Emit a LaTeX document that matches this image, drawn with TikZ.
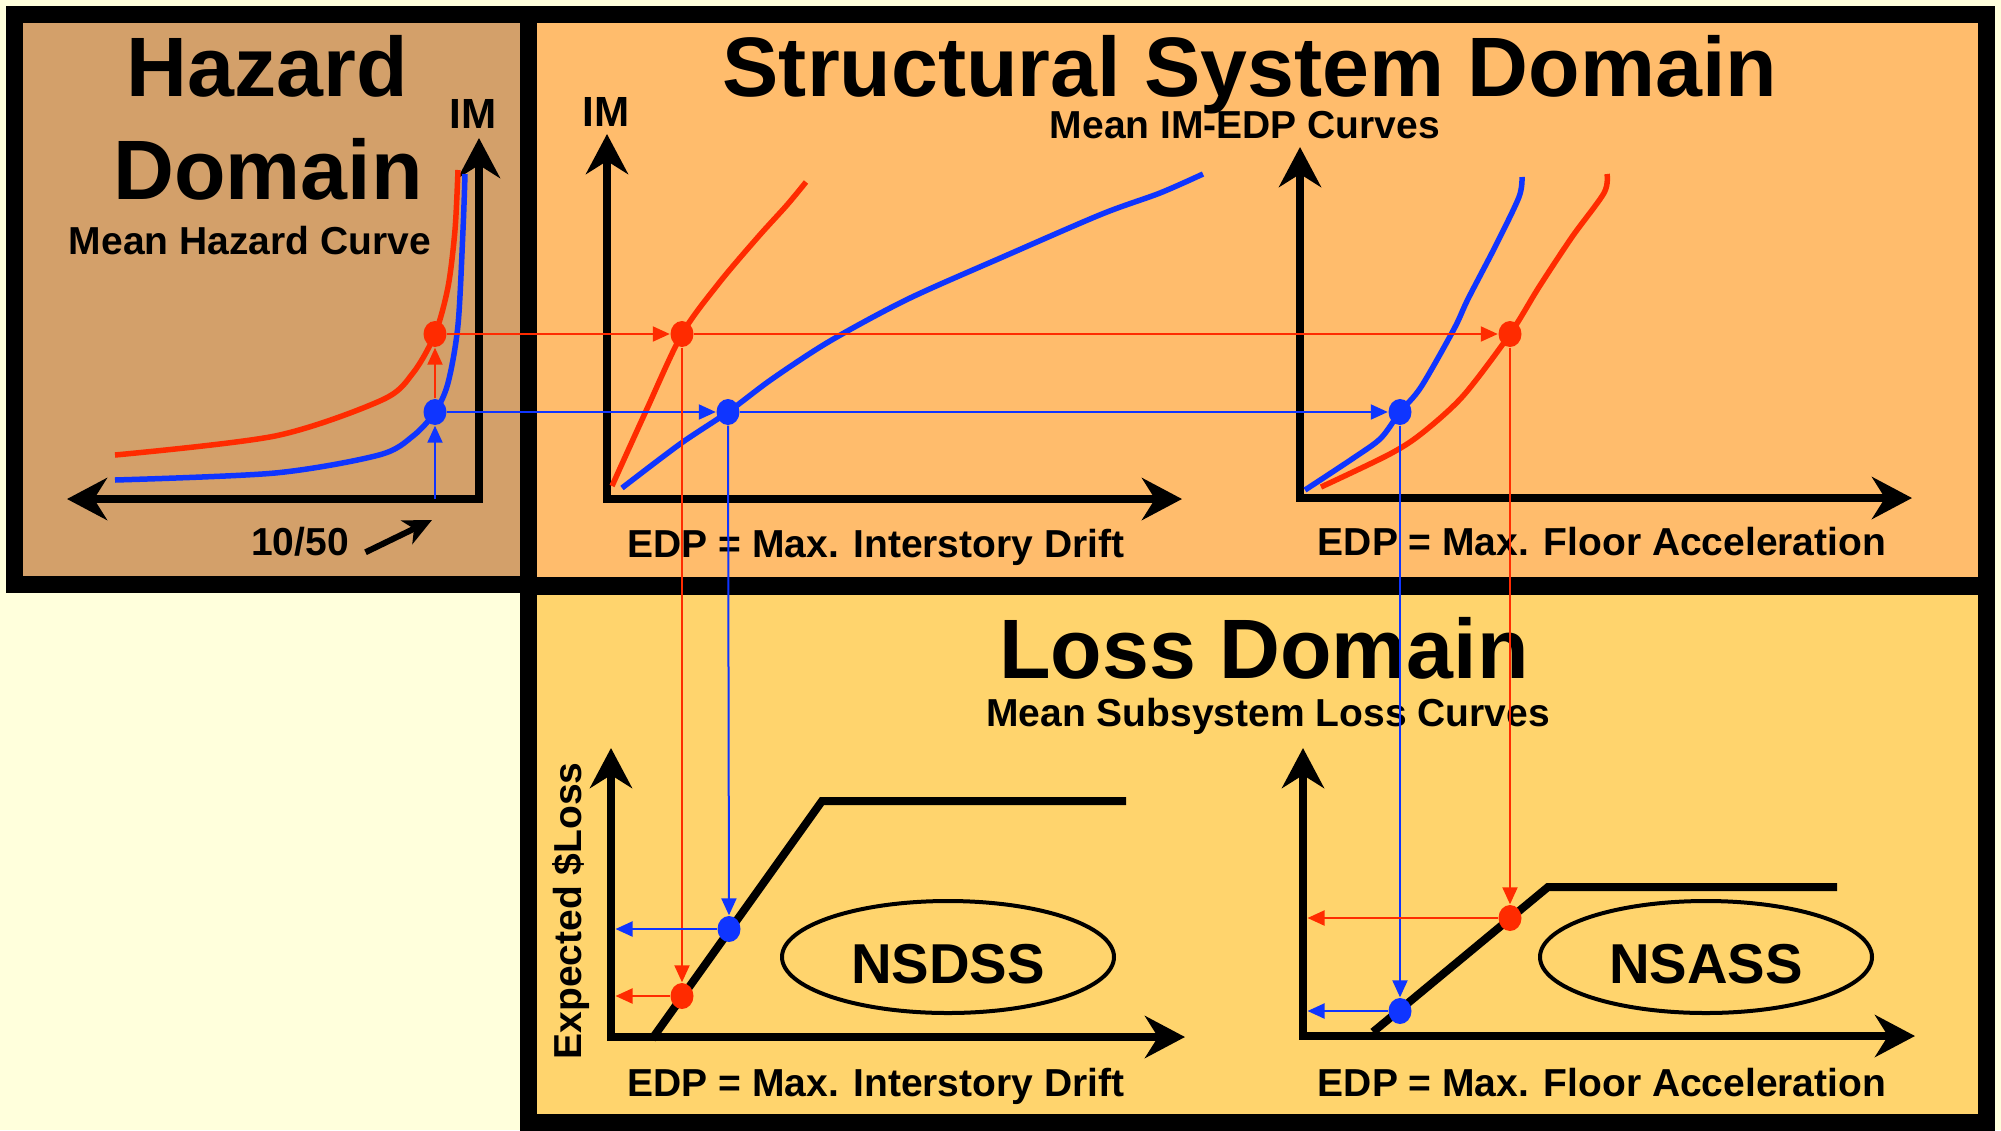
\documentclass[tikz,border=0pt]{standalone}
\usepackage{fontspec}
\setmainfont{Liberation Sans}
\usetikzlibrary{arrows.meta, shapes.geometric}
\definecolor{cream}{HTML}{FFFFDC}
\definecolor{hazfill}{HTML}{D3A06A}
\definecolor{strfill}{HTML}{FFBC6C}
\definecolor{lossfill}{HTML}{FFD46D}
\definecolor{hzred}{HTML}{FF2B00}
\definecolor{hzblue}{HTML}{0F35FF}
\tikzset{
  axtip/.tip={Stealth[length=4mm, width=4.2mm, inset=1.3mm]},
  cntip/.tip={Triangle[length=1.7mm, width=1.5mm]}
}

\begin{document}
\begin{tikzpicture}[x=0.1mm, y=-0.1mm,
    box/.style={draw=black, line width=1.7mm},
    axis/.style={line width=0.8mm, line join=miter, axtip-axtip},
    redc/.style={draw=hzred, line width=0.55mm},
    bluec/.style={draw=hzblue, line width=0.55mm},
    link/.style={line width=0.2mm, -cntip},
    dot/.style={ellipse, inner sep=0, minimum width=2.3mm, minimum height=2.6mm},
    ttl/.style={font=\bfseries\fontsize{24}{28}\selectfont, inner sep=0, anchor=base},
    lbl/.style={font=\bfseries\fontsize{11.1}{13}\selectfont, inner sep=0, anchor=base},
    oval/.style={draw, ellipse, line width=0.4mm, minimum width=33.2mm, minimum height=11.2mm,
      inner sep=0, text height=5.2mm, text depth=0mm, font=\bfseries\fontsize{16}{19}\selectfont}]

    \useasboundingbox (0,0) rectangle (2001,1130);
    \fill[cream] (0,0) rectangle (2001,1130);

    \filldraw[box, fill=hazfill] (14.5,14.5) rectangle (528.5,584.5);
    \filldraw[box, fill=strfill] (528.5,14) rectangle (1986.5,585);
    \filldraw[box, fill=lossfill] (528.5,586) rectangle (1986.5,1122);

    \node[ttl] (hztitle1) at (267,96) {Hazard};
    \node[ttl] (hztitle2) at (268,199) {Domain};
    \node[lbl] (hzsub) at (250,254) {Mean Hazard Curve};
    \node[ttl] (sttitle) at (1250,96) {Structural System Domain};
    \node[lbl] (stsub) at (1245,138) {Mean IM-EDP Curves};
    \node[ttl] (lstitle) at (1264,678) {Loss Domain};
    \node[lbl] (lssub) at (1268,726) {Mean Subsystem Loss Curves};

    \node[lbl, font=\bfseries\fontsize{12}{14}\selectfont] (hzim) at (473,128) {IM};
    \node[lbl, font=\bfseries\fontsize{12}{14}\selectfont] (stim) at (606,126) {IM};
    \node[lbl] (s1lab) at (876,557) {EDP = Max. Interstory Drift};
    \node[lbl] (s2lab) at (1602,555) {EDP = Max. Floor Acceleration};
    \node[lbl] (l1lab) at (876,1096) {EDP = Max. Interstory Drift};
    \node[lbl] (l2lab) at (1602,1096) {EDP = Max. Floor Acceleration};
    \node[lbl, rotate=90] (l1ylab) at (581,911) {Expected \$Loss};
    \node[lbl] (n1050) at (300,555) {10/50};

    \coordinate (hzO) at (479,499);
    \coordinate (hzY) at (479,138);
    \coordinate (hzX) at (67,499);
    \coordinate (s1O) at (607,499);
    \coordinate (s1Y) at (607,134);
    \coordinate (s1X) at (1182,499);
    \coordinate (s2O) at (1300,498);
    \coordinate (s2Y) at (1300,147);
    \coordinate (s2X) at (1912,498);
    \coordinate (l1O) at (611,1037);
    \coordinate (l1Y) at (611,748);
    \coordinate (l1X) at (1185,1037);
    \coordinate (l2O) at (1303,1036);
    \coordinate (l2Y) at (1303,748);
    \coordinate (l2X) at (1915,1036);

    \draw[axis] (hzY) -- (hzO) -- (hzX);
    \draw[axis] (s1Y) -- (s1O) -- (s1X);
    \draw[axis] (s2Y) -- (s2O) -- (s2X);
    \draw[axis] (l1Y) -- (l1O) -- (l1X);
    \draw[axis] (l2Y) -- (l2O) -- (l2X);

    \draw[redc] plot[smooth, tension=0.5] coordinates {(115,455) (275,436) (382,400) (413,373) (435,334) (448,287) (455,230) (458,170)};
    \draw[bluec] plot[smooth, tension=0.5] coordinates {(115,480) (275,473) (379,455) (413,436) (435,412) (448,383) (458,325) (463,230) (465,174)};
    \draw[redc] plot[smooth, tension=0.5] coordinates {(612,486) (646,411) (682,334) (719,283) (758,237) (787,205) (806,182)};
    \draw[bluec] plot[smooth, tension=0.5] coordinates {(622,488) (680,444) (728,412) (772,379) (830,341) (908,299) (1005,256) (1102,214) (1160,193) (1203,174)};
    \draw[bluec] plot[smooth, tension=0.5] coordinates {(1305,490) (1355,457) (1381,438) (1400,412) (1421,387) (1454,329) (1468,299) (1496,245) (1519,197) (1522,177)};
    \draw[redc] plot[smooth, tension=0.5] coordinates {(1321,487) (1388,455) (1421,434) (1463,396) (1510,334) (1539,287) (1572,237) (1604,193) (1607,174)};

    \draw[line width=0.8mm] (652,1039) -- (822,801) -- (1126,801);
    \draw[line width=0.8mm] (1373,1032) -- (1548,887) -- (1837,887);
    \node[oval] (nsdss) at (948,957) {NSDSS};
    \node[oval] (nsass) at (1706,957) {NSASS};

    \coordinate (t1050) at (432,520);
    \draw[line width=0.6mm, -{Stealth[length=2.8mm, width=2.6mm, inset=0.8mm]}] ([shift={(16,11)}]n1050.east) -- (t1050);

    \node[dot, fill=hzred] (hazR) at (435,334) {};
    \node[dot, fill=hzblue] (hazB) at (435,412) {};
    \node[dot, fill=hzred] (drR) at (682,334) {};
    \node[dot, fill=hzblue] (drB) at (728,412) {};
    \node[dot, fill=hzred] (faR) at (1510,334) {};
    \node[dot, fill=hzblue] (faB) at (1400,412) {};
    \node[dot, fill=hzred] (ldR) at (682,996) {};
    \node[dot, fill=hzblue] (ldB) at (729,929) {};
    \node[dot, fill=hzred] (lfR) at (1510,918) {};
    \node[dot, fill=hzblue] (lfB) at (1400,1011) {};

    \draw[link, hzblue] (hazB |- hzO) -- (hazB);
    \draw[link, hzred] (hazB) -- (hazR);
    \draw[link, hzred] (hazR) -- (drR);
    \draw[link, hzred] (drR) -- (faR);
    \draw[link, hzblue] (hazB) -- (drB);
    \draw[link, hzblue] (drB) -- (faB);
    \draw[link, hzred] (drR) -- (ldR);
    \draw[link, hzblue] (drB) -- (ldB);
    \draw[link, hzred] (faR) -- (lfR);
    \draw[link, hzblue] (faB) -- (lfB);
    \draw[link, hzred, shorten >=0.45mm] (ldR) -- (ldR -| l1O);
    \draw[link, hzblue, shorten >=0.45mm] (ldB) -- (ldB -| l1O);
    \draw[link, hzred, shorten >=0.45mm] (lfR) -- (lfR -| l2O);
    \draw[link, hzblue, shorten >=0.45mm] (lfB) -- (lfB -| l2O);
\end{tikzpicture}
\end{document}
